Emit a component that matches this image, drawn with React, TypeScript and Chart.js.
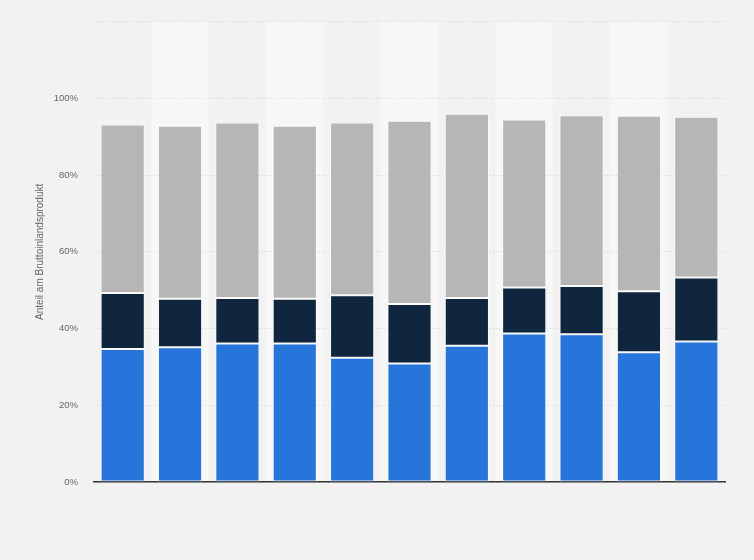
import React, { useEffect, useRef } from "react";
import { Chart, registerables } from "chart.js";

Chart.register(...registerables);

const categories = ["2012", "2013", "2014", "2015", "2016", "2017", "2018", "2019", "2020", "2021", "2022"];
const seriesBlue = [34.7, 35.1, 36.1, 36.1, 32.4, 30.9, 35.5, 38.7, 38.5, 33.8, 36.6];
const seriesDark = [14.6, 12.7, 11.9, 11.7, 16.3, 15.5, 12.5, 12.0, 12.6, 15.9, 16.7];
const seriesGray = [43.9, 45.1, 45.7, 45.1, 45.0, 47.8, 48.0, 43.8, 44.5, 45.8, 41.9];
const yTicks = [0, 20, 40, 60, 80, 100, 120];
const yTitle = "Anteil am Bruttoinlandsprodukt";

const FONT = "'Liberation Sans', Arial, sans-serif";

const bgPlugin = {
  id: "bg",
  beforeDraw(chart: any) {
    const { ctx, width, height, chartArea, scales } = chart;
    ctx.save();
    ctx.fillStyle = "#f2f2f2";
    ctx.fillRect(0, 0, width, height);
    const x = scales.x;
    const n = categories.length;
    const step = (chartArea.right - chartArea.left) / n;
    ctx.fillStyle = "#f7f7f7";
    for (let i = 1; i < n; i += 2) {
      const c = x.getPixelForValue(i);
      ctx.fillRect(c - step / 2, chartArea.top, step, chartArea.bottom - chartArea.top);
    }
    ctx.restore();
  },
};

export default function App() {
  const ref = useRef<HTMLCanvasElement>(null);
  useEffect(() => {
    if (!ref.current) return;
    const mk = (label: string, data: number[], color: string) => ({
      label,
      data,
      backgroundColor: color,
      borderColor: "rgba(255,255,255,0.6)",
      borderWidth: 1,
      borderSkipped: false as any,
      categoryPercentage: 1,
      barPercentage: 0.77,
    });
    const chart = new Chart(ref.current, {
      type: "bar",
      data: {
        labels: categories,
        datasets: [
          mk("A", seriesBlue, "#2775db"),
          mk("B", seriesDark, "#0f263e"),
          mk("C", seriesGray, "#b6b6b6"),
        ],
      },
      options: {
        animation: false,
        responsive: false,
        maintainAspectRatio: false,
        layout: { padding: { left: 34, right: 29, top: 18, bottom: 78 } },
        plugins: { legend: { display: false }, tooltip: { enabled: false } },
        scales: {
          x: {
            stacked: true,
            grid: { display: false, drawTicks: false },
            border: { display: true, color: "#333333", width: 1.5 },
            ticks: { display: false },
          },
          y: {
            stacked: true,
            min: 0,
            max: 120,
            afterFit: (s: any) => {
              s.width = 60;
            },
            afterBuildTicks: (s: any) => {
              s.ticks = yTicks.map((v) => ({ value: v }));
            },
            grid: {
              color: "#d6d6d6",
              lineWidth: 1,
              drawTicks: false,
            },
            border: { display: false, dash: [1, 2] },
            ticks: {
              padding: 16,
              color: "#666666",
              font: { family: FONT, size: 9.5 },
              callback: (v: any) => (v === 120 ? "" : v + "%"),
            },
            title: {
              display: true,
              text: yTitle,
              color: "#666666",
              font: { family: FONT, size: 10 },
              padding: 0,
            },
          },
        },
      },
      plugins: [bgPlugin],
    });
    return () => chart.destroy();
  }, []);
  return (
    <div style={{ position: "absolute", left: 0, top: 0, width: 754, height: 560, background: "#f2f2f2" }}>
      <canvas ref={ref} width={754} height={560} style={{ width: 754, height: 560 }} />
    </div>
  );
}
